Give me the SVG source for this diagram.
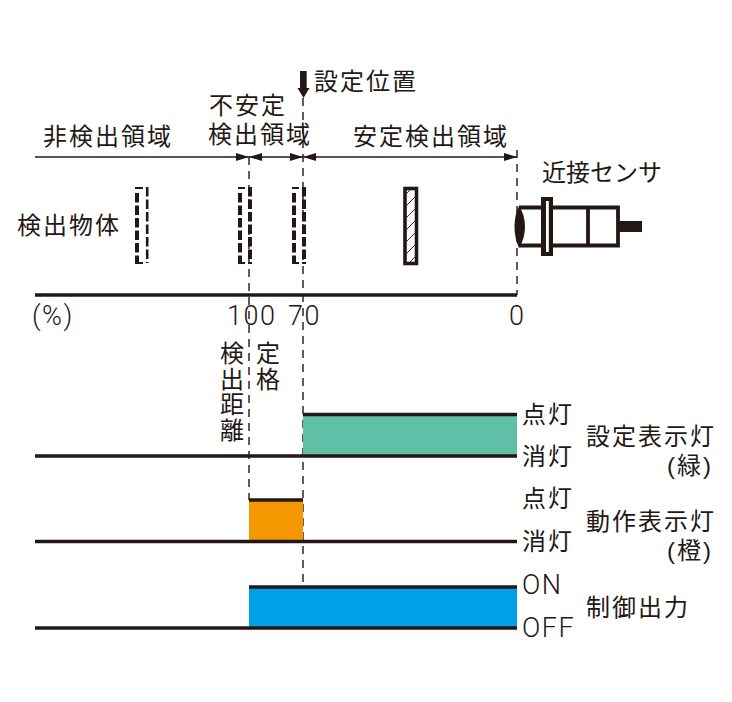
<svg xmlns="http://www.w3.org/2000/svg" width="732" height="702" viewBox="0 0 732 702">
<style>
text{font-family:"Liberation Sans","Noto Sans CJK JP",sans-serif;font-size:24px;fill:#231815;letter-spacing:2px}
.n{font-family:Roboto,"Liberation Sans",sans-serif;font-weight:300;font-size:27px;letter-spacing:1.5px}
.v{font-family:"Noto Sans CJK JP",sans-serif;writing-mode:vertical-rl;letter-spacing:1.6px}
.k{letter-spacing:0}
.dash{fill:none;stroke:#231815;stroke-width:1.4;stroke-dasharray:8 6}
.thin{fill:none;stroke:#231815;stroke-width:1.4}
.thick{fill:none;stroke:#231815;stroke-width:3.6}
.ow{fill:none;stroke:#231815;stroke-width:4;stroke-dasharray:9.500 3}
.on{fill:none;stroke:#231815;stroke-width:2.600;stroke-dasharray:9.500 3}
.ob{fill:none;stroke:#231815;stroke-width:2}
.sb{fill:none;stroke:#231815;stroke-width:3.800}
</style>
<defs>
<pattern id="h" width="12" height="12" patternUnits="userSpaceOnUse"><path d="M-2 14L14 -2M-2 2L2 -2M10 14L14 10" stroke="#231815" stroke-width=".9"/></pattern>
<marker id="a" markerUnits="userSpaceOnUse" markerWidth="13" markerHeight="8" refX="13" refY="4" orient="auto-start-reverse"><path d="M0 0L13 4L0 8Z" fill="#231815"/></marker>
</defs>
<g id="connectors">
<path class="dash" d="M303 98V590"/>
<path class="dash" d="M249 157V500"/>
<path class="dash" d="M517 150V295"/>
<path class="thin" d="M35 157H249" marker-end="url(#a)"/>
<path class="thin" d="M249 157H262" marker-start="url(#a)"/>
<path class="thin" d="M262 157H303" marker-end="url(#a)"/>
<path class="thin" d="M303 157H517" marker-start="url(#a)" marker-end="url(#a)"/>
<path class="thick" d="M35 295H517"/>
</g>
<g id="set-arrow"><path d="M300 71H306.700V88H309.500L303.500 98L297.500 88H300Z" fill="#231815"/><text x="314" y="90">設定位置</text></g>
<g id="zone-labels">
<text x="43" y="145">非検出領域</text>
<text y="114"><tspan x="209">不安定</tspan><tspan x="208" y="143">検出領域</tspan></text>
<text x="353" y="145">安定検出領域</text>
</g>
<g id="object-label"><text x="17" y="234">検出物体</text></g>
<g id="object-1"><path class="ow" d="M137 193V263"/><path class="on" d="M147.200 187V263"/><path class="ob" d="M135 188H143M135 263H143"/></g>
<g id="object-2"><path class="ow" d="M240 193V263"/><path class="ow" d="M250 187V264"/><path class="ob" d="M238 188H245M238 263H245"/></g>
<g id="object-3"><path class="ow" d="M294 193V263"/><path class="ow" d="M304 187V264"/><path class="ob" d="M292 188H299M292 263H299"/></g>
<g id="object-4"><rect x="405" y="188.500" width="11.500" height="75" fill="url(#h)" stroke="#231815" stroke-width="3.600"/></g>
<g id="sensor">
<text class="k" x="542" y="181">近接センサ</text>
<path class="sb" d="M519 207.500H618V245.500H519M588 207.500V245.500"/>
<path d="M519 206C513 218 513 235 519 248C527 235 527 218 519 206Z" fill="#231815"/>
<rect x="541" y="197" width="12" height="59" fill="#231815"/>
<rect x="546" y="201" width="2.800" height="51" fill="#fff"/>
<rect x="618" y="221" width="24" height="11" fill="#231815"/>
</g>
<g id="axis-labels">
<text class="n" x="32" y="325">(%)</text>
<text class="n" x="227" y="325">100</text>
<text class="n" x="288" y="325">70</text>
<text class="n" x="509" y="325">0</text>
</g>
<g id="rated-distance">
<text class="v" x="232" y="341">検出距離</text>
<text class="v" x="268" y="341">定格</text>
</g>
<g id="setting-lamp">
<rect x="303" y="415" width="214" height="41" fill="#5fc0a7"/>
<path class="thick" d="M303 414.500H517M35 456H517"/>
<text x="522" y="423">点灯</text><text x="522" y="465">消灯</text>
<text y="445"><tspan x="586">設定表示灯</tspan><tspan x="667" y="474">(緑)</tspan></text>
</g>
<g id="operation-lamp">
<rect x="249" y="500" width="54" height="41" fill="#f39800"/>
<path class="thick" d="M249 500H303M35 541.500H517"/>
<text x="522" y="507">点灯</text><text x="522" y="550">消灯</text>
<text y="530"><tspan x="586">動作表示灯</tspan><tspan x="667" y="559">(橙)</tspan></text>
</g>
<g id="control-output">
<rect x="249" y="587" width="268" height="41" fill="#00a0e9"/>
<path class="thick" d="M249 587H517M35 628H517"/>
<text class="n" x="522" y="594">ON</text><text class="n" x="522" y="637">OFF</text>
<text x="586" y="616">制御出力</text>
</g>
</svg>
